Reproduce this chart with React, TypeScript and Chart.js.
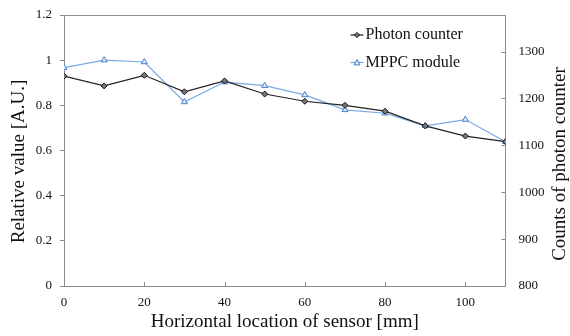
import React, { useEffect, useRef } from "react";
import { Chart, registerables } from "chart.js";

Chart.register(...registerables);

const positions = [0, 10, 20, 30, 40, 50, 60, 70, 80, 90, 100, 110];
const photonCounter = [0.929, 0.886, 0.933, 0.86, 0.908, 0.85, 0.818, 0.8, 0.774, 0.709, 0.664, 0.639];
const mppcModule = [0.967, 1.0, 0.992, 0.815, 0.903, 0.887, 0.846, 0.78, 0.765, 0.709, 0.737, 0.639];
const xTicks = [0, 20, 40, 60, 80, 100];
const leftTicks = [0, 0.2, 0.4, 0.6, 0.8, 1, 1.2];
const rightTicks = [800, 900, 1000, 1100, 1200, 1300];
const seriesNames = ["Photon counter", "MPPC module"];
const leftTitle = "Relative value [A.U.]";
const rightTitle = "Counts of photon counter";

const FONT = "'Liberation Serif', 'Times New Roman', serif";
const AXIS_GRAY = "#8c8c8c";
const CANVAS_SHIFT = 10;

const framePlugin = {
  id: "frameAndLegend",
  afterDatasetsDraw(chart: any) {
    const { ctx, chartArea } = chart;
    const x = chart.scales.x;
    const y2 = chart.scales.y2;
    ctx.save();
    ctx.strokeStyle = AXIS_GRAY;
    ctx.lineWidth = 1;
    ctx.beginPath();
    ctx.moveTo(chartArea.left, chartArea.top + 0.5);
    ctx.lineTo(chartArea.right, chartArea.top + 0.5);
    ctx.stroke();
    xTicks.forEach((v) => {
      const px = Math.round(x.getPixelForValue(v)) + 0.5;
      ctx.beginPath();
      ctx.moveTo(px, chartArea.bottom);
      ctx.lineTo(px, chartArea.bottom - 4);
      ctx.stroke();
    });
    rightTicks.forEach((v) => {
      const py = Math.round(y2.getPixelForValue(v)) + 0.5;
      ctx.beginPath();
      ctx.moveTo(chartArea.right, py);
      ctx.lineTo(chartArea.right - 4, py);
      ctx.stroke();
    });
    ctx.restore();
  },
  afterDraw(chart: any) {
    const { ctx, chartArea } = chart;
    ctx.save();
    ctx.fillStyle = "#111";
    ctx.font = `19px ${FONT}`;
    ctx.textAlign = "center";
    ctx.textBaseline = "middle";
    const midY = (chartArea.top + chartArea.bottom) / 2;
    ctx.save();
    ctx.translate(19, midY + 11);
    ctx.rotate(-Math.PI / 2);
    ctx.fillText(leftTitle, 0, 0);
    ctx.restore();
    ctx.save();
    ctx.translate(chart.width - 10, midY + 13.5);
    ctx.rotate(-Math.PI / 2);
    ctx.fillText(rightTitle, 0, 0);
    ctx.restore();

    const baseX = chartArea.right - 155;
    const rows = [chartArea.top + 20, chartArea.top + 47.5];
    chart.data.datasets.forEach((ds: any, i: number) => {
      const y = rows[i];
      ctx.strokeStyle = ds.borderColor;
      ctx.lineWidth = ds.borderWidth;
      ctx.beginPath();
      ctx.moveTo(baseX, y);
      ctx.lineTo(baseX + 13, y);
      ctx.stroke();
      ctx.fillStyle = ds.pointBackgroundColor;
      ctx.strokeStyle = ds.pointBorderColor;
      ctx.lineWidth = 1;
      const cx = baseX + 6.5;
      if (ds.pointStyle === "triangle") {
        const r = 3;
        ctx.beginPath();
        ctx.moveTo(cx, y - r);
        ctx.lineTo(cx + r, y + r * 0.8);
        ctx.lineTo(cx - r, y + r * 0.8);
        ctx.closePath();
        ctx.fill();
        ctx.stroke();
      } else {
        const r = 2.6;
        ctx.beginPath();
        ctx.moveTo(cx, y - r);
        ctx.lineTo(cx + r, y);
        ctx.lineTo(cx, y + r);
        ctx.lineTo(cx - r, y);
        ctx.closePath();
        ctx.fill();
        ctx.stroke();
      }
      ctx.fillStyle = "#111";
      ctx.font = `16px ${FONT}`;
      ctx.textBaseline = "middle";
      ctx.textAlign = "left";
      ctx.fillText(ds.label, baseX + 15, y);
    });
    ctx.restore();
  },
};

export default function App() {
  const ref = useRef<HTMLCanvasElement>(null);
  useEffect(() => {
    if (!ref.current) return;
    const chart = new Chart(ref.current, {
      type: "line",
      data: {
        datasets: [
          {
            label: seriesNames[0],
            data: positions.map((p, i) => ({ x: p, y: photonCounter[i] })),
            borderColor: "#222222",
            borderWidth: 1.2,
            pointStyle: "rectRot",
            pointRadius: 3,
            pointBackgroundColor: "#777777",
            pointBorderColor: "#111111",
            pointBorderWidth: 1,
            yAxisID: "y",
            tension: 0,
          },
          {
            label: seriesNames[1],
            data: positions.map((p, i) => ({ x: p, y: mppcModule[i] })),
            borderColor: "#7aa8e4",
            borderWidth: 1.2,
            pointStyle: "triangle",
            pointRadius: 3.5,
            pointBackgroundColor: "#dfe9f7",
            pointBorderColor: "#4a7fcc",
            pointBorderWidth: 1,
            yAxisID: "y",
            tension: 0,
          },
        ],
      },
      options: {
        animation: false,
        responsive: false,
        maintainAspectRatio: false,
        layout: { padding: { top: 15 + CANVAS_SHIFT, left: 0, right: 0, bottom: 0 } },
        plugins: { legend: { display: false }, tooltip: { enabled: false } },
        scales: {
          x: {
            type: "linear",
            min: 0,
            max: 110,
            afterBuildTicks: (s: any) => {
              s.ticks = xTicks.map((v) => ({ value: v }));
            },
            afterFit: (s: any) => {
              s.height = 50;
            },
            grid: { display: true, drawOnChartArea: false, drawTicks: false, color: AXIS_GRAY },
            border: { display: true, color: AXIS_GRAY },
            ticks: {
              padding: 9,
              color: "#111",
              font: { family: FONT, size: 13 },
              maxRotation: 0,
              callback: (v: any) => String(v),
            },
            title: {
              display: true,
              text: "Horizontal location of sensor [mm]",
              color: "#111",
              font: { family: FONT, size: 19 },
              padding: { top: 0, bottom: 3 },
            },
          },
          y: {
            type: "linear",
            position: "left",
            min: 0,
            max: 1.2,
            afterBuildTicks: (s: any) => {
              s.ticks = leftTicks.map((v) => ({ value: v }));
            },
            afterFit: (s: any) => {
              s.width = 64;
            },
            grid: { display: true, drawOnChartArea: false, drawTicks: true, tickLength: 4, color: AXIS_GRAY },
            border: { display: true, color: AXIS_GRAY },
            ticks: {
              padding: 8,
              color: "#111",
              font: { family: FONT, size: 13 },
              callback: (v: any) => String(Math.round(Number(v) * 10) / 10),
            },
          },
          y2: {
            type: "linear",
            position: "right",
            min: 800,
            max: 1378,
            afterBuildTicks: (s: any) => {
              s.ticks = rightTicks.map((v) => ({ value: v }));
            },
            afterFit: (s: any) => {
              s.width = 64.5;
            },
            grid: { display: false, drawOnChartArea: false, drawTicks: false },
            border: { display: true, color: AXIS_GRAY },
            ticks: {
              padding: 13,
              color: "#111",
              font: { family: FONT, size: 13 },
              callback: (v: any) => String(v),
            },
          },
        },
      },
      plugins: [framePlugin],
    });
    return () => chart.destroy();
  }, []);
  return (
    <div style={{ position: "fixed", left: 0, top: 0, width: 570, height: 336, overflow: "hidden", background: "#fff" }}>
      <canvas
        ref={ref}
        width={570}
        height={336 + CANVAS_SHIFT}
        style={{ display: "block", position: "absolute", left: 0, top: -CANVAS_SHIFT }}
      />
    </div>
  );
}
